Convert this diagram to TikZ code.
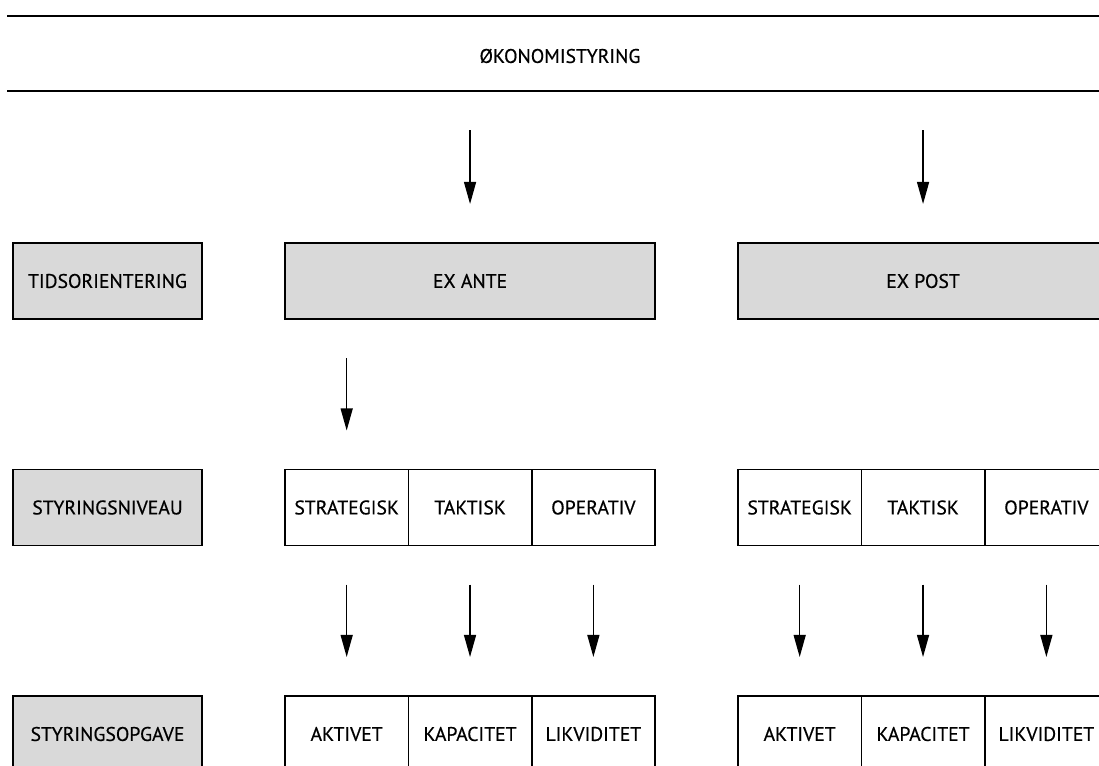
\documentclass[tikz,border=0pt]{standalone}
\usepackage{fontspec}
\setmainfont[FakeBold=0.5]{PT Sans}
\usetikzlibrary{positioning,arrows.meta}

\begin{document}
\begin{tikzpicture}[
        x=0.025cm, y=-0.025cm,
        font=\fontsize{14}{16}\selectfont,
        every node/.style={shape=rectangle, align=center, inner sep=0pt, outer sep=0pt},
        head/.style={draw, line width=1.2pt, fill=gray!30, minimum width=4.725cm, minimum height=1.9cm},
        wide/.style={head, minimum width=9.25cm},
        cell/.style={draw, line width=1.2pt, fill=white, minimum width=3.083cm, minimum height=1.9cm},
        arr/.style={-{Triangle[length=0.55cm,width=0.3cm]}, line width=0.9pt, shorten <=0.975cm, shorten >=0.975cm}
    ]
    \useasboundingbox[fill=white] (0,0) rectangle (1099,765);
    \clip (0,0) rectangle (1099,765);

    % title band
    \draw[line width=1.6pt] (7,16) -- (1099,16);
    \draw[line width=1.6pt] (7,91) -- (1099,91);
    \node (titel) at (560,56) {ØKONOMISTYRING};

    % row labels
    \node[head] (tid) at (107.5,281) {TIDSORIENTERING};
    \node[head] (niv) at (107.5,507.5) {STYRINGSNIVEAU};
    \node[head] (opg) at (107.5,734) {STYRINGSOPGAVE};

    % ex ante / ex post
    \node[wide, anchor=west] (ea) at (285,281) {EX ANTE};
    \node[wide, anchor=west] (ep) at (738,281) {EX POST};

    % levels
    \node[cell, anchor=west] (sa) at (285,507.5) {STRATEGISK};
    \node[cell, right=0pt of sa] (ta) {TAKTISK};
    \node[cell, right=0pt of ta] (oa) {OPERATIV};
    \node[cell, anchor=west] (sb) at (738,507.5) {STRATEGISK};
    \node[cell, right=0pt of sb] (tb) {TAKTISK};
    \node[cell, right=0pt of tb] (ob) {OPERATIV};

    % tasks
    \node[cell, anchor=west] (aa) at (285,734) {AKTIVET};
    \node[cell, right=0pt of aa] (ka) {KAPACITET};
    \node[cell, right=0pt of ka] (la) {LIKVIDITET};
    \node[cell, anchor=west] (ab) at (738,734) {AKTIVET};
    \node[cell, right=0pt of ab] (kb) {KAPACITET};
    \node[cell, right=0pt of kb] (lb) {LIKVIDITET};

    % arrows
    \draw[arr] (ea.north |- 0,91) -- (ea.north);
    \draw[arr] (ep.north |- 0,91) -- (ep.north);
    \draw[arr] (ea.south -| sa) -- (sa.north);
    \foreach \a/\b in {sa/aa, ta/ka, oa/la, sb/ab, tb/kb, ob/lb}
        \draw[arr] (\a.south) -- (\b.north);
\end{tikzpicture}
\end{document}
